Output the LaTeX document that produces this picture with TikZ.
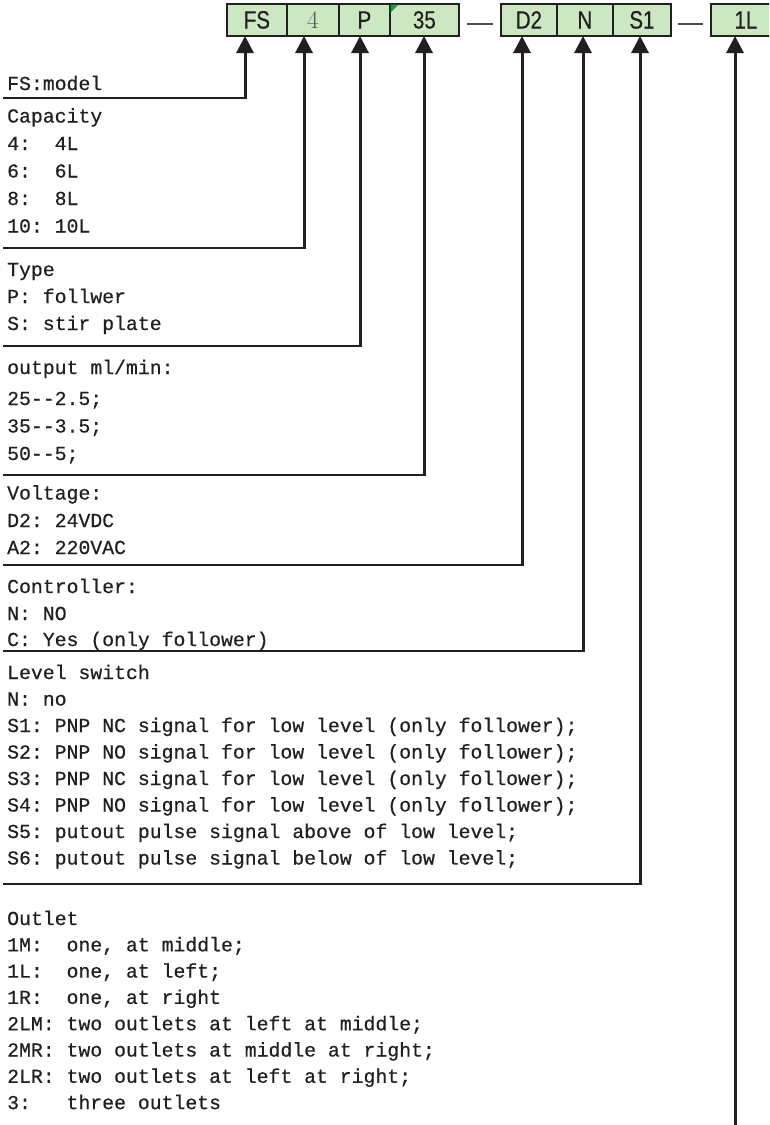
\documentclass[tikz,border=0pt]{standalone}
\usepackage{fontspec}
\usetikzlibrary{arrows.meta}
\newfontfamily\txtfont[FakeBold=0.5]{Liberation Mono}
\newfontfamily\boxfont[FakeStretch=0.82,FakeBold=0.4]{Liberation Sans}
\definecolor{boxfill}{HTML}{CCE8C2}
\definecolor{ink}{HTML}{231F20}
\definecolor{greenmark}{HTML}{1A9A3A}
\begin{document}
\begin{tikzpicture}[x=1pt,y=-1pt,
  txt/.style={anchor=base west, inner sep=0pt, font=\txtfont\fontsize{19.8}{20}\selectfont, text=ink},
  cell/.style={draw=ink, line width=1.8pt, fill=boxfill, minimum height=32pt, inner sep=0pt, anchor=north west,
    font=\boxfont\fontsize{25}{25}\selectfont, text=ink},
  sep/.style={draw=ink!80, line width=1.2pt},
  hline/.style={draw=ink, line width=2pt},
  stem/.style={draw=ink, line width=3pt, -{Triangle[length=17pt,width=17pt]}}
]
\useasboundingbox (0,0) rectangle (769,1125);
\fill[white] (0,0) rectangle (769,1125);
\clip (0,0) rectangle (769,1125);

% code boxes
\node[cell, minimum width=60pt] (fs)  at (226,3) {\raisebox{-3pt}{FS}};
\node[cell, minimum width=52pt] (c4)  at (286,3) {\raisebox{-3pt}{\rmfamily\color{ink!75}4}};
\node[cell, minimum width=51pt] (p)   at (338,3) {\raisebox{-3pt}{P}};
\node[cell, minimum width=69pt] (c35) at (389,3) {\raisebox{-3pt}{35}};
\node[cell, minimum width=56pt] (d2)  at (500,3) {\raisebox{-3pt}{D2}};
\node[cell, minimum width=56pt] (n)   at (556,3) {\raisebox{-3pt}{N}};
\node[cell, minimum width=58pt] (s1)  at (612,3) {\raisebox{-3pt}{S1}};
\node[cell, minimum width=70pt] (l1)  at (710,3) {\raisebox{-3pt}{1L}};
\fill[greenmark] (390.5,4.5) -- (398.5,4.5) -- (390.5,12.5) -- cycle;
\draw[sep] ([shift={(7,4)}]c35.east) -- ([shift={(-7,4)}]d2.west);
\draw[sep] ([shift={(6,4)}]s1.east) -- ([shift={(-7,4)}]l1.west);

% texts
\node[txt] (t1) at (7,90) {FS:model};

\node[txt] (t2) at (7,122.5) {Capacity};
\node[txt] at (7,150) {4:~~4L};
\node[txt] at (7,177.5) {6:~~6L};
\node[txt] at (7,205) {8:~~8L};
\node[txt] at (7,232.5) {10:~10L};

\node[txt] (t3) at (7,276) {Type};
\node[txt] at (7,303) {P:~follwer};
\node[txt] at (7,330) {S:~stir plate};

\node[txt] (t4) at (7,374) {output ml/min:};
\node[txt] at (7,405) {25--2.5;};
\node[txt] at (7,432.5) {35--3.5;};
\node[txt] at (7,460) {50--5;};

\node[txt] (t5) at (7,499.5) {Voltage:};
\node[txt] at (7,527) {D2:~24VDC};
\node[txt] at (7,554) {A2:~220VAC};

\node[txt] (t6) at (7,593) {Controller:};
\node[txt] at (7,620) {N:~NO};
\node[txt] at (7,646) {C:~Yes (only follower)};

\node[txt] (t7) at (7,679) {Level switch};
\node[txt] at (7,705.5) {N:~no};
\node[txt] at (7,732) {S1:~PNP NC signal for low level (only follower);};
\node[txt] at (7,758.5) {S2:~PNP NO signal for low level (only follower);};
\node[txt] at (7,785) {S3:~PNP NC signal for low level (only follower);};
\node[txt] at (7,811.5) {S4:~PNP NO signal for low level (only follower);};
\node[txt] at (7,838) {S5:~putout pulse signal above of low level;};
\node[txt] at (7,864.5) {S6:~putout pulse signal below of low level;};

\node[txt] (t8) at (7,925) {Outlet};
\node[txt] at (7,951.3) {1M:~~one, at middle;};
\node[txt] at (7,977.6) {1L:~~one, at left;};
\node[txt] at (7,1003.9) {1R:~~one, at right};
\node[txt] at (7,1030.2) {2LM:~two outlets at left at middle;};
\node[txt] at (7,1056.5) {2MR:~two outlets at middle at right;};
\node[txt] at (7,1082.8) {2LR:~two outlets at left at right;};
\node[txt] at (7,1109.1) {3:~~~three outlets};

% connector coordinates
\coordinate (aS) at (3,98);   \coordinate (aC) at (245,98);  \coordinate (aT) at (245,36);
\coordinate (bS) at (3,248);  \coordinate (bC) at (304,248); \coordinate (bT) at (304,36);
\coordinate (cS) at (3,346);  \coordinate (cC) at (360,346); \coordinate (cT) at (360,36);
\coordinate (dS) at (3,475);  \coordinate (dC) at (424,475); \coordinate (dT) at (424,36);
\coordinate (eS) at (3,565);  \coordinate (eC) at (522,565); \coordinate (eT) at (522,36);
\coordinate (fS) at (3,651);  \coordinate (fC) at (583,651); \coordinate (fT) at (583,36);
\coordinate (gS) at (3,884);  \coordinate (gC) at (640,884); \coordinate (gT) at (640,36);
\coordinate (hC) at (735,1125); \coordinate (hT) at (735,36);

\foreach \k in {a,b,c,d,e,f,g}{
  \draw[hline] (\k S) -- ([xshift=1.5pt]\k C);
  \draw[stem] ([yshift=-1pt]\k C) -- (\k T);
}
\draw[stem] (hC) -- (hT);
\end{tikzpicture}
\end{document}
